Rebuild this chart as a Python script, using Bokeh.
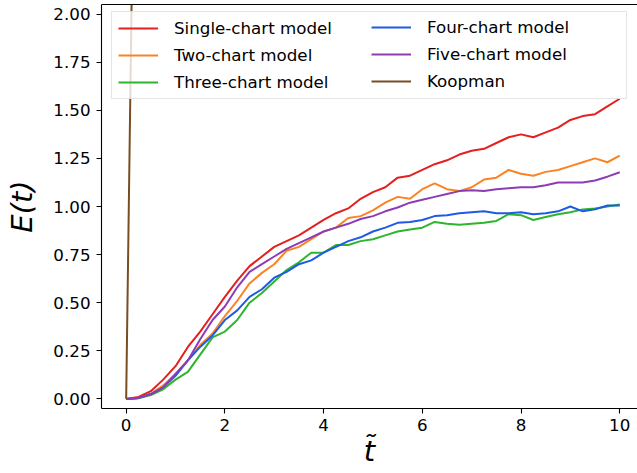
from bokeh.plotting import figure
from bokeh.models import (Legend, LegendItem, LinearAxis, FixedTicker,
                          PrintfTickFormatter, Range1d)
from bokeh.embed import file_html
from bokeh.resources import INLINE

# time grid (t-tilde)
t_grid = [0.0, 0.25, 0.5, 0.75, 1.0, 1.25, 1.5, 1.75, 2.0, 2.25, 2.5, 2.75,
          3.0, 3.25, 3.5, 3.75, 4.0, 4.25, 4.5, 4.75, 5.0, 5.25, 5.5, 5.75,
          6.0, 6.25, 6.5, 6.75, 7.0, 7.25, 7.5, 7.75, 8.0, 8.25, 8.5, 8.75,
          9.0, 9.25, 9.5, 9.75, 10.0]

e_single = [0.0, 0.01, 0.04, 0.10, 0.17, 0.27, 0.35, 0.44, 0.53, 0.615, 0.69,
            0.74, 0.79, 0.82, 0.85, 0.89, 0.93, 0.965, 0.99, 1.04, 1.075, 1.10,
            1.15, 1.16, 1.19, 1.22, 1.24, 1.27, 1.29, 1.30, 1.33, 1.36, 1.375,
            1.36, 1.385, 1.41, 1.45, 1.47, 1.48, 1.52, 1.56]

e_two = [0.0, 0.005, 0.025, 0.07, 0.13, 0.20, 0.28, 0.34, 0.43, 0.51, 0.60,
         0.655, 0.70, 0.77, 0.79, 0.83, 0.87, 0.89, 0.94, 0.95, 0.98, 1.02,
         1.05, 1.04, 1.09, 1.12, 1.09, 1.08, 1.10, 1.14, 1.15, 1.19, 1.17,
         1.16, 1.18, 1.19, 1.21, 1.23, 1.25, 1.23, 1.265]

e_three = [0.0, 0.003, 0.02, 0.05, 0.10, 0.14, 0.23, 0.32, 0.35, 0.41, 0.50,
           0.55, 0.61, 0.67, 0.71, 0.76, 0.76, 0.80, 0.80, 0.82, 0.83, 0.85,
           0.87, 0.88, 0.89, 0.92, 0.91, 0.905, 0.91, 0.915, 0.925, 0.96,
           0.955, 0.93, 0.945, 0.96, 0.97, 0.985, 0.99, 1.0, 1.01]

e_four = [0.0, 0.005, 0.025, 0.06, 0.12, 0.20, 0.27, 0.33, 0.41, 0.46, 0.53,
          0.57, 0.63, 0.66, 0.70, 0.72, 0.76, 0.79, 0.82, 0.84, 0.87, 0.89,
          0.915, 0.92, 0.93, 0.95, 0.955, 0.965, 0.97, 0.975, 0.965, 0.965,
          0.97, 0.96, 0.965, 0.975, 1.0, 0.975, 0.985, 1.005, 1.005]

e_five = [0.0, 0.005, 0.025, 0.06, 0.13, 0.20, 0.31, 0.41, 0.48, 0.58, 0.66,
          0.70, 0.74, 0.78, 0.81, 0.84, 0.87, 0.89, 0.91, 0.935, 0.95, 0.975,
          0.995, 1.02, 1.035, 1.05, 1.065, 1.08, 1.085, 1.08, 1.09, 1.095,
          1.10, 1.10, 1.11, 1.125, 1.125, 1.125, 1.135, 1.155, 1.178]

# the Koopman error leaves the visible range right after t = 0
t_koopman = [0.0, 0.25, 0.5]
e_koopman = [0.0, 4.7, 9.4]

series_names = ["Single-chart model", "Two-chart model", "Three-chart model",
                "Four-chart model", "Five-chart model", "Koopman"]
series_colors = ["#e41f1f", "#fa8424", "#2db52d", "#1f5ae6", "#8c3cb4", "#7a4c22"]

x_ticks = [0, 2, 4, 6, 8, 10]
y_ticks = [0.0, 0.25, 0.5, 0.75, 1.0, 1.25, 1.5, 1.75, 2.0]

FONT = "DejaVu Sans"
TICK_SIZE = "16.7px"

p = figure(width=637, height=473, output_backend="svg", toolbar_location=None,
           x_range=Range1d(-0.5, 10.36), y_range=Range1d(-0.05, 2.05),
           min_border_left=101, min_border_right=0, min_border_top=4,
           min_border_bottom=65, background_fill_color="white",
           border_fill_color="white", outline_line_color=None)

p.xgrid.visible = False
p.ygrid.visible = False

xs = [t_grid] * 5 + [t_koopman]
ys = [e_single, e_two, e_three, e_four, e_five, e_koopman]
renderers = []
for x, y, c in zip(xs, ys, series_colors):
    renderers.append(p.line(x, y, line_color=c, line_width=2))

# axes styling
for ax in (p.xaxis[0], p.yaxis[0]):
    ax.axis_line_color = "black"
    ax.axis_line_width = 1.1
    ax.major_tick_line_color = "black"
    ax.major_tick_line_width = 1.1
    ax.major_tick_out = 5
    ax.major_tick_in = 0
    ax.minor_tick_line_color = None
    ax.major_label_text_font = FONT
    ax.major_label_text_font_size = TICK_SIZE
    ax.major_label_text_color = "black"
    ax.axis_label_text_font = FONT
    ax.axis_label_text_font_size = "29px"
    ax.axis_label_text_font_style = "italic"
    ax.axis_label_text_color = "black"

p.xaxis[0].ticker = FixedTicker(ticks=x_ticks)
p.yaxis[0].ticker = FixedTicker(ticks=y_ticks)
p.yaxis[0].formatter = PrintfTickFormatter(format="%.2f")
p.xaxis[0].major_label_standoff = 5
p.yaxis[0].major_label_standoff = 6
p.xaxis[0].axis_label = "t\u0303"
p.yaxis[0].axis_label = "E(t)"
p.xaxis[0].axis_label_standoff = 0
p.yaxis[0].axis_label_standoff = 11

# top spine
top = LinearAxis(ticker=FixedTicker(ticks=[]), major_tick_out=0, major_tick_in=0,
                 minor_tick_out=0, minor_tick_in=0, major_label_text_font_size="0px",
                 axis_line_color="black", axis_line_width=1.1)
p.add_layout(top, "above")

legend_style = dict(label_text_font=FONT, label_text_font_size=TICK_SIZE,
                    label_text_color="black", glyph_width=40, glyph_height=20,
                    label_height=20, label_standoff=16, spacing=7, padding=6,
                    margin=0)

leg1 = Legend(items=[LegendItem(label=series_names[i], renderers=[renderers[i]])
                     for i in range(3)],
              location=(10, 309), label_width=446,
              border_line_color="#cccccc", border_line_width=1,
              background_fill_color="white", background_fill_alpha=0.8,
              **legend_style)
leg2 = Legend(items=[LegendItem(label=series_names[i], renderers=[renderers[i]])
                     for i in range(3, 6)],
              location=(270, 317), border_line_color=None,
              background_fill_alpha=0.0, **legend_style)
p.add_layout(leg1)
p.add_layout(leg2)

open("out.html", "w").write(file_html(p, INLINE))
